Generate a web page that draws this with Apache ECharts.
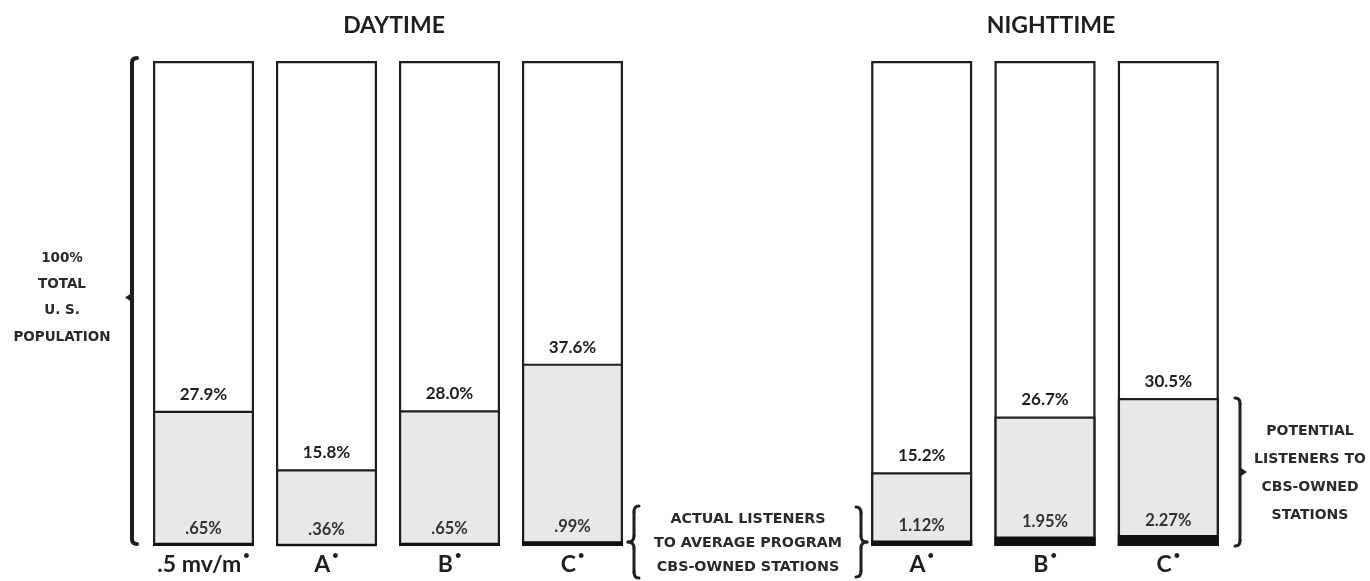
<!DOCTYPE html>
<html>
<head>
<meta charset="utf-8">
<script src="https://cdn.jsdelivr.net/npm/echarts@6/dist/echarts.min.js"></script>
<style>
  html, body { margin: 0; padding: 0; background: #fff; }
  #chart { width: 1370px; height: 581px; }
</style>
</head>
<body>
<div id="chart"></div>
<script>
// Share of the U.S. population reached by CBS-owned stations
const categoriesDay = ['.5 mv/m', 'A', 'B', 'C'];
const potentialDay = [27.9, 15.8, 28.0, 37.6];
const actualDay = [0.65, 0.36, 0.65, 0.99];

const categoriesNight = ['A', 'B', 'C'];
const potentialNight = [15.2, 26.7, 30.5];
const actualNight = [1.12, 1.95, 2.27];

const totalShare = 100;

const FONT = 'Lato, "DejaVu Sans", sans-serif';
const NOTE_FONT = '"DejaVu Sans", sans-serif';
const INK = '#1e1e1e';
const GREY_FILL = '#e8e8e6';

const fmtPotential = p => p.value.toFixed(1) + '%';
const fmtActual = p => p.value.toFixed(2).replace(/^0/, '') + '%';

function xAxisFor(gridIndex, cats) {
  return {
    type: 'category',
    gridIndex,
    data: cats,
    axisLine: { show: false },
    axisTick: { show: false },
    axisLabel: {
      margin: 4,
      formatter: v => '{c|' + v + '}{d|•}',
      rich: {
        c: { fontFamily: FONT, fontWeight: 'bold', fontSize: 23, color: INK },
        d: { fontFamily: FONT, fontWeight: 'bold', fontSize: 11, color: INK, padding: [0, 0, 18, 2] }
      }
    }
  };
}

function yAxisFor(gridIndex) {
  return {
    type: 'value',
    gridIndex,
    min: 0,
    max: 100,
    show: false,
    splitLine: { show: false }
  };
}

function seriesFor(axisIndex, potential, actual) {
  const common = { type: 'bar', xAxisIndex: axisIndex, yAxisIndex: axisIndex, barWidth: 101, barGap: '-100%', animation: false };
  return [
    Object.assign({}, common, {
      name: 'total',
      data: potential.map(() => totalShare),
      itemStyle: { color: '#fff', borderColor: INK, borderWidth: 2.2 },
      z: 1
    }),
    Object.assign({}, common, {
      name: 'potential',
      data: potential,
      itemStyle: { color: GREY_FILL, borderColor: INK, borderWidth: 2.2 },
      label: {
        show: true, position: 'top', distance: 8, formatter: fmtPotential,
        fontFamily: FONT, fontWeight: 'bold', fontSize: 17, color: INK
      },
      z: 2
    }),
    Object.assign({}, common, {
      name: 'actual',
      data: actual,
      itemStyle: { color: '#111', borderColor: '#111', borderWidth: 2.2 },
      label: {
        show: true, position: 'top', distance: 6, formatter: fmtActual,
        fontFamily: FONT, fontWeight: 'bold', fontSize: 16.5, color: '#333'
      },
      z: 3
    })
  ];
}

const chart = echarts.init(document.getElementById('chart'), null, { renderer: 'canvas' });

chart.setOption({
  backgroundColor: '#fff',
  animation: false,
  title: [
    { text: 'DAYTIME', left: 389, top: 9, textAlign: 'center',
      textStyle: { fontFamily: FONT, fontWeight: 'bold', fontSize: 23, color: INK } },
    { text: 'NIGHTTIME', left: 1046, top: 9, textAlign: 'center',
      textStyle: { fontFamily: FONT, fontWeight: 'bold', fontSize: 23, color: INK } }
  ],
  grid: [
    { left: 142, width: 492, top: 61, bottom: 35 },
    { left: 860, width: 370, top: 61, bottom: 35 }
  ],
  xAxis: [xAxisFor(0, categoriesDay), xAxisFor(1, categoriesNight)],
  yAxis: [yAxisFor(0), yAxisFor(1)],
  series: [].concat(seriesFor(0, potentialDay, actualDay), seriesFor(1, potentialNight, actualNight))
});

// Brackets and side notes, placed from the value axes
const yTop = chart.convertToPixel({ yAxisIndex: 0 }, totalShare);
const yBot = chart.convertToPixel({ yAxisIndex: 0 }, 0);
const yMid = (yTop + yBot) / 2 - 6;
const yPotNight = chart.convertToPixel({ yAxisIndex: 1 }, Math.max.apply(null, potentialNight));

const lineStyle = (w) => ({ stroke: INK, lineWidth: w, fill: null, lineCap: 'round' });

function seg(x1, y1, x2, y2, w) {
  return { type: 'line', shape: { x1, y1, x2, y2 }, style: lineStyle(w) };
}
function curve(x1, y1, cx, cy, x2, y2, w) {
  return { type: 'bezierCurve', shape: { x1, y1, x2, y2, cpx1: cx, cpy1: cy }, style: lineStyle(w) };
}

// Curly brace; dir = -1 points left, +1 points right
function brace(x, y0, y1, dir, w) {
  const m = (y0 + y1) / 2, c = -dir * 5, t = dir * 6;
  return [
    curve(x + c, y0, x, y0, x, y0 + 6, w),
    seg(x, y0 + 6, x, m - 6, w),
    curve(x, m - 6, x, m, x + t, m, w),
    curve(x + t, m, x, m, x, m + 6, w),
    seg(x, m + 6, x, y1 - 6, w),
    curve(x, y1 - 6, x, y1, x + c, y1, w)
  ];
}

// Bracket with rounded ends and a small pointer; dir = -1 points left
function bracket(x, y0, y1, dir, w, tipY) {
  const c = -dir * 5;
  return [
    curve(x + c, y0, x, y0, x, y0 + 5, w),
    seg(x, y0 + 5, x, y1 - 5, w),
    curve(x, y1 - 5, x, y1, x + c, y1, w),
    { type: 'polygon', shape: { points: [[x + dir, tipY - 4], [x + dir * 7, tipY], [x + dir, tipY + 4]] }, style: { fill: INK } }
  ];
}

const noteStyle = { fontFamily: NOTE_FONT, fontWeight: 'bold', fill: '#2a2a2a', align: 'center', verticalAlign: 'top' };

chart.setOption({
  graphic: [].concat(
    bracket(132, yTop - 3, yBot - 2, -1, 4, yMid),
    brace(634, 506, 578, -1, 3),
    brace(861, 507, 577, 1, 3),
    bracket(1240, yPotNight, yBot, 1, 3, 472),
    [
      { type: 'text', x: 62, y: 245, style: Object.assign({}, noteStyle, {
          text: '100%\nTOTAL\nU. S.\nPOPULATION', fontSize: 13.5, lineHeight: 26.3 }) },
      { type: 'text', x: 748, y: 507, style: Object.assign({}, noteStyle, {
          text: 'ACTUAL LISTENERS\nTO AVERAGE PROGRAM\nCBS-OWNED STATIONS', fontSize: 14.3, lineHeight: 24 }) },
      { type: 'text', x: 1310, y: 418, style: Object.assign({}, noteStyle, {
          text: 'POTENTIAL\nLISTENERS TO\nCBS-OWNED\nSTATIONS', fontSize: 14, lineHeight: 27.7 }) }
    ]
  )
});
</script>
</body>
</html>
